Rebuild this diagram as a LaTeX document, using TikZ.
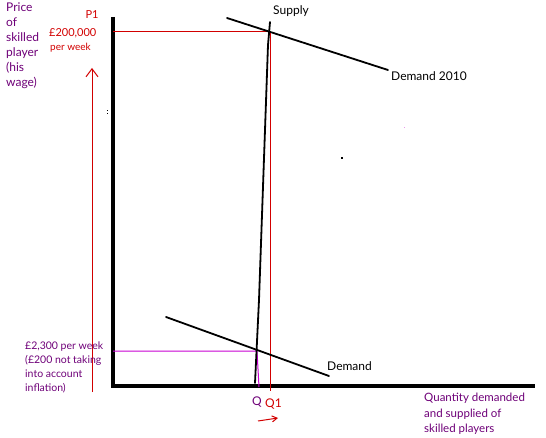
\documentclass[tikz,border=0pt]{standalone}
\usepackage{fontspec}
\setmainfont{Lato}
\usetikzlibrary{arrows.meta}
\definecolor{purp}{RGB}{110,0,120}
\definecolor{redc}{RGB}{210,0,0}
\definecolor{mag}{RGB}{200,0,210}
\begin{document}
\begin{tikzpicture}[x=1pt,y=-1pt,
  axis/.style={line width=4pt,black},
  curve/.style={line width=1.8pt,black,line cap=round},
  redline/.style={line width=1pt,redc},
  magline/.style={line width=1pt,mag},
  lab/.style={inner sep=0pt,font=\fontsize{12}{14}\selectfont},
  purplab/.style={lab,text=purp},
  redlab/.style={lab,text=redc,font=\fontsize{11}{13}\selectfont},
  barb/.style={-{Straight Barb[length=8pt,width=12pt]}}]
\useasboundingbox (0,0) rectangle (546,438);
% axes
\coordinate (O) at (113,386);
\coordinate (Ytop) at (113,17);
\coordinate (Xend) at (535,386);
\draw[axis] (Ytop) -- (O) -- (Xend);
% guide lines
\coordinate (P1) at (113,32);
\coordinate (E1) at (270,32);
\coordinate (Q1b) at (270,391);
\draw[redline] (P1) -- (E1) -- (Q1b);
\coordinate (P0) at (113,351);
\coordinate (E0) at (257,351);
\coordinate (Q0b) at (259,387);
\draw[magline] (P0) -- (E0) -- (Q0b);
% supply
\coordinate (S1) at (270,22);
\coordinate (S2) at (268,45);
\coordinate (S3) at (259,300);
\coordinate (S4) at (255,383);
\draw[curve] (S1) -- (S2) -- (S3) -- (S4);
% demand curves
\coordinate (D1a) at (227,18);
\coordinate (D1b) at (388,70);
\draw[curve] (D1a) -- (D1b);
\coordinate (D0a) at (166,317);
\coordinate (D0b) at (329,376);
\draw[curve] (D0a) -- (D0b);
% arrows
\coordinate (Aup0) at (92,392);
\coordinate (Aup1) at (92,68);
\draw[redline,barb] (Aup0) -- (Aup1);
\coordinate (Ar0) at (258,421);
\coordinate (Ar1) at (278,418);
\draw[redline,-{Straight Barb[length=5pt,width=6pt]}] (Ar0) -- (Ar1);
% stray dots
\fill[black] (340.5,157) rectangle (342.5,159);
\fill[black] (107,110) rectangle (108,111);
\fill[black] (107,113) rectangle (108,114);
\fill[mag!40] (404,127) rectangle (405,128);
% labels
\node[purplab,anchor=north west,align=left,font=\fontsize{12}{15}\selectfont] (ylab) at (6,3)
  {Price\\ of\\skilled\\player\\(his\\wage)};
\node[redlab] (p1) at (92,15) {P1};
\node[redlab,anchor=west] (p1v) at (49,33) {£200,000};
\node[redlab,anchor=west,font=\fontsize{10}{12}\selectfont] (p1w) at (50,48) {per week};
\node[purplab,anchor=north west,align=left,font=\fontsize{10.5}{14}\selectfont] (p0) at (25,342)
  {£2,300 per week\\(£200 not taking\\into account\\inflation)};
\node[purplab,anchor=north west,align=left,font=\fontsize{11.5}{15.5}\selectfont] (xlab) at (424,393)
  {Quantity demanded\\and supplied of\\skilled players};
\node[lab,anchor=west] (sup) at (273,11) {Supply};
\node[lab,anchor=west] (d10) at (391,76) {Demand 2010};
\node[lab,anchor=west] (d0) at (327,366) {Demand};
\node[purplab,anchor=west] (q) at (252,402) {Q};
\node[redlab,anchor=west,font=\fontsize{12}{14}\selectfont] (q1) at (265,404) {Q1};
\end{tikzpicture}
\end{document}
